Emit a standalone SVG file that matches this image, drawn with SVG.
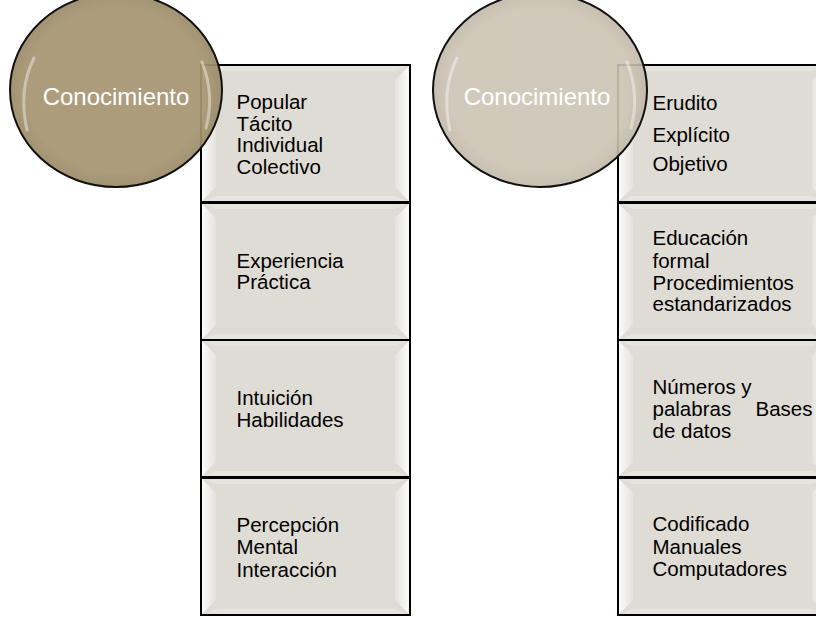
<svg xmlns="http://www.w3.org/2000/svg" width="816" height="617" viewBox="0 0 816 617">
<defs>
<linearGradient id="lb" x1="0" y1="0" x2="1" y2="0">
<stop offset="0" stop-color="#ffffff" stop-opacity="0.95"/>
<stop offset="1" stop-color="#ffffff" stop-opacity="0.2"/>
</linearGradient>
<linearGradient id="rb" x1="0" y1="0" x2="1" y2="0">
<stop offset="0" stop-color="#ffffff" stop-opacity="0.2"/>
<stop offset="1" stop-color="#ffffff" stop-opacity="0.95"/>
</linearGradient>
<radialGradient id="g1" cx="0.5" cy="0.5" r="0.5">
<stop offset="0.85" stop-color="#a69572"/>
<stop offset="1" stop-color="#9a8a68"/>
</radialGradient>
<radialGradient id="g2" cx="0.5" cy="0.5" r="0.5">
<stop offset="0.85" stop-color="#ccc4b4"/>
<stop offset="1" stop-color="#c0b7a6"/>
</radialGradient>
<g id="box">
<rect x="0" y="0" width="209" height="137" fill="#dfdbd5"/>
<polygon points="0,0 209,0 194,6 15,6" fill="#e7e4df"/>
<polygon points="0,137 209,137 194,131 15,131" fill="#e8e5e0"/>
<polygon points="0,0 15,15 15,122 0,137" fill="url(#lb)"/>
<polygon points="209,0 194,15 194,122 209,137" fill="url(#rb)"/>
<rect x="0" y="0" width="209" height="137" fill="none" stroke="#000" stroke-width="2"/>
</g>
</defs>
<style>
.t{font-family:"Liberation Sans",Arial,sans-serif;font-size:20.5px;fill:#000}
.c{font-family:"Liberation Sans",Arial,sans-serif;font-size:24px;fill:#fff;text-anchor:middle}
.el{stroke:#111;stroke-width:2}
.gl{fill:none;stroke:#fff;stroke-width:3;stroke-linecap:round;opacity:0.4}
</style>
<g id="left-boxes">
<g id="l1"><use href="#box" x="201" y="65"/><text class="t" x="236.5" y="109">Popular</text><text class="t" x="236.5" y="130.5">Tácito</text><text class="t" x="236.5" y="152">Individual</text><text class="t" x="236.5" y="173.5">Colectivo</text></g>
<g id="l2"><use href="#box" x="201" y="203"/><text class="t" x="236.5" y="267.5">Experiencia</text><text class="t" x="236.5" y="289">Práctica</text></g>
<g id="l3"><use href="#box" x="201" y="340"/><text class="t" x="236.5" y="405">Intuición</text><text class="t" x="236.5" y="426.5">Habilidades</text></g>
<g id="l4"><use href="#box" x="201" y="478"/><text class="t" x="236.5" y="532">Percepción</text><text class="t" x="236.5" y="554">Mental</text><text class="t" x="236.5" y="576.5">Interacción</text></g>
</g>
<g id="right-boxes">
<g id="r1"><use href="#box" x="618" y="65"/><text class="t" x="652.5" y="110">Erudito</text><text class="t" x="652.5" y="141.5">Explícito</text><text class="t" x="652.5" y="170.5">Objetivo</text></g>
<g id="r2"><use href="#box" x="618" y="203"/><text class="t" x="652.5" y="245">Educación</text><text class="t" x="652.5" y="267.5">formal</text><text class="t" x="652.5" y="290">Procedimientos</text><text class="t" x="652.5" y="311">estandarizados</text></g>
<g id="r3"><use href="#box" x="618" y="340"/><text class="t" x="652.5" y="394">Números y</text><text class="t" x="652.5" y="416">palabras<tspan x="755.5">Bases</tspan></text><text class="t" x="652.5" y="437.5">de datos</text></g>
<g id="r4"><use href="#box" x="618" y="478"/><text class="t" x="652.5" y="531">Codificado</text><text class="t" x="652.5" y="554">Manuales</text><text class="t" x="652.5" y="576">Computadores</text></g>
</g>
<g id="circle-left">
<ellipse class="el" cx="116" cy="90" rx="106" ry="97" fill="url(#g1)" fill-opacity="0.93"/>
<path class="gl" d="M34,58 Q18,90 27,130"/>
<path class="gl" d="M202,62 Q215,95 206,128"/>
<text class="c" x="116" y="105">Conocimiento</text>
</g>
<g id="circle-right">
<ellipse class="el" cx="540" cy="90" rx="107" ry="97" fill="url(#g2)" fill-opacity="0.9"/>
<path class="gl" d="M457,58 Q441,90 450,130"/>
<path class="gl" d="M627,62 Q640,95 631,128"/>
<text class="c" x="537" y="105">Conocimiento</text>
</g>
<g id="connectors"/>
</svg>
